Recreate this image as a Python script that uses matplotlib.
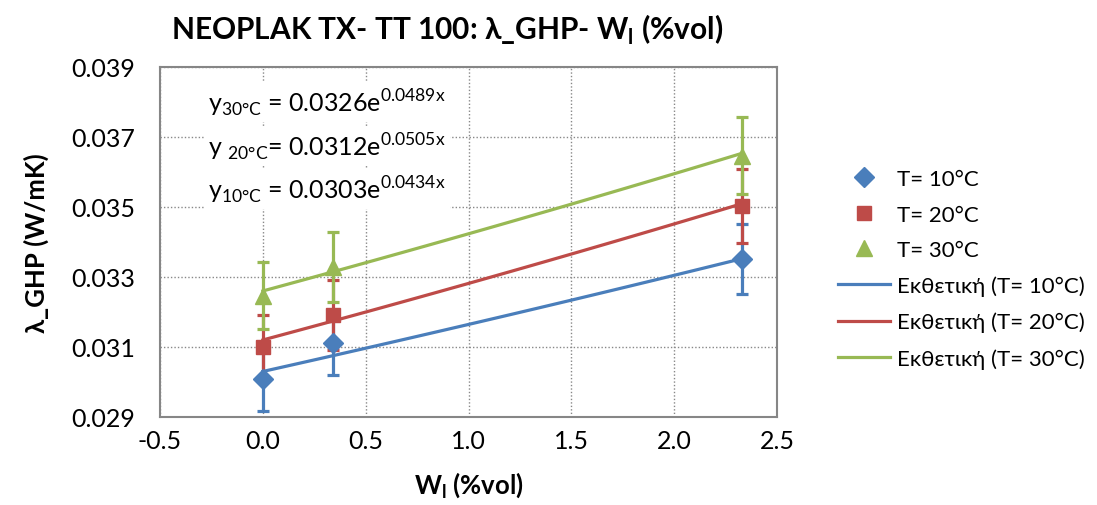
import numpy as np
import matplotlib
matplotlib.use("Agg")
import matplotlib.pyplot as plt
from matplotlib.lines import Line2D

plt.rcParams['font.family'] = ['Lato', 'Open Sans', 'DejaVu Sans']
plt.rcParams['mathtext.fontset'] = 'custom'
plt.rcParams['mathtext.rm'] = 'Lato'
plt.rcParams['mathtext.bf'] = 'Lato:bold'

# Moisture content W_l (%vol)
w_l = [0.0, 0.34, 2.33]

# Thermal conductivity λ_GHP (W/mK) at each temperature
lam_10 = [0.03009, 0.03111, 0.03351]
lam_20 = [0.03100, 0.03191, 0.03503]
lam_30 = [0.03246, 0.03329, 0.03646]

# Error bar half-widths
err_10 = [0.00092, 0.00092, 0.00100]
err_20 = [0.00090, 0.00100, 0.00106]
err_30 = [0.00096, 0.00100, 0.00110]

# Exponential fit coefficients y = a * exp(b x)
fit_a = {'10': 0.0303, '20': 0.0312, '30': 0.0326}
fit_b = {'10': 0.0434, '20': 0.0505, '30': 0.0489}

colors = {'10': '#4A7EBB', '20': '#BE4B48', '30': '#98B954'}
markers = {'10': 'D', '20': 's', '30': '^'}
msizes = {'10': 10, '20': 10, '30': 12}

fig = plt.figure(figsize=(10.97, 5.06), dpi=100)
ax = fig.add_axes([0.1459, 0.174, 0.5625, 0.6917])

series = [('10', lam_10, err_10), ('20', lam_20, err_20), ('30', lam_30, err_30)]
fs_tick = 18
fs_lab = 18.5
fs_leg = 16

# Trend lines
xfit = np.linspace(min(w_l), max(w_l), 100)
for key, vals, errs in series:
    ax.plot(xfit, fit_a[key] * np.exp(fit_b[key] * xfit), color=colors[key], lw=2.3, zorder=2)

for key, vals, errs in series:
    ax.errorbar(w_l, vals, yerr=errs, fmt='none', ecolor=colors[key], elinewidth=2.3,
                capsize=4.3, capthick=2.3, zorder=3)
    ax.plot(w_l, vals, linestyle='none', marker=markers[key], color=colors[key],
            markersize=msizes[key], zorder=4)

xt = np.arange(-0.5, 2.51, 0.5)
yt = np.arange(0.029, 0.0391, 0.002)
ax.set_xlim(-0.5, 2.5)
ax.set_ylim(0.029, 0.039)
ax.set_xticks(xt)
ax.set_yticks(yt)
ax.set_xticklabels([f"{v:.1f}" for v in xt])
ax.set_yticklabels([f"{v:.3f}" for v in yt])
ax.tick_params(labelsize=fs_tick, length=0)
ax.tick_params(axis='y', pad=18)
ax.tick_params(axis='x', pad=9)
ax.grid(True, color='#888888', linestyle=(0, (1, 1.5)), linewidth=1.0)
ax.set_axisbelow(True)
for s in ax.spines.values():
    s.set_color('#868686')
    s.set_linewidth(1.5)

fig.text(0.4075, 0.94, r"NEOPLAK TX- TT 100: λ_GHP- W$_\mathbf{l}$ (%vol)",
         fontsize=21.5, fontweight='bold', ha='center', va='center')
ax.set_xlabel(r"W$_\mathbf{l}$ (%vol)", fontsize=fs_lab, fontweight='bold', labelpad=12)
ax.set_ylabel("λ_GHP (W/mK)", fontsize=fs_lab, fontweight='bold', labelpad=16)

# Fit equations
eqs = [(r"y$_\mathregular{30°C}$ = 0.0326e$^\mathregular{0.0489x}$", 0.0380),
       (r"y $_\mathregular{20°C}$= 0.0312e$^\mathregular{0.0505x}$", 0.03674),
       (r"y$_\mathregular{10°C}$ = 0.0303e$^\mathregular{0.0434x}$", 0.03551)]
for txt, yv in eqs:
    ax.text(0.31, yv, txt, fontsize=fs_tick, ha='center', va='center', zorder=5,
            bbox=dict(facecolor='white', edgecolor='none', pad=3))

handles = [Line2D([], [], linestyle='none', marker=markers[k], color=colors[k],
                  markersize=msizes[k]) for k in ['10', '20', '30']]
handles += [Line2D([], [], color=colors[k], lw=2.3) for k in ['10', '20', '30']]
labels = ["T= 10°C", "T= 20°C", "T= 30°C",
          "Εκθετική (T= 10°C)", "Εκθετική (T= 20°C)", "Εκθετική (T= 30°C)"]
fig.legend(handles, labels, loc='upper left', bbox_to_anchor=(0.764, 0.664),
           frameon=False, fontsize=fs_leg, handlelength=2.35, handletextpad=0.32,
           labelspacing=0.7, borderpad=0, borderaxespad=0)

fig.savefig("out.png", dpi=100)
